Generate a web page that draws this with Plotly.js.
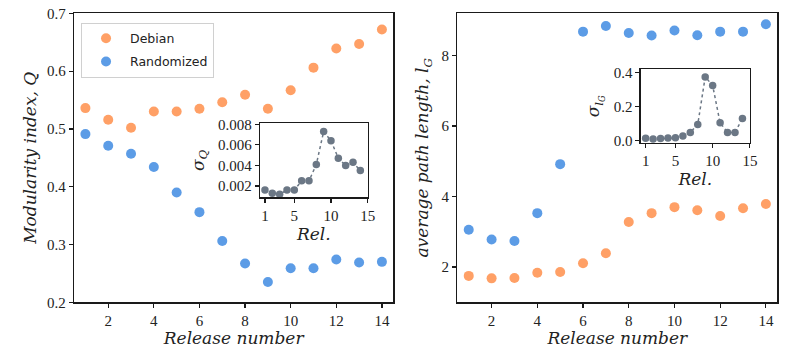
<!DOCTYPE html>
<html>
<head>
<meta charset="utf-8">
<script src="https://cdn.plot.ly/plotly-3.0.1.min.js"></script>
<style>html,body{margin:0;padding:0;background:#fff;}#chart{width:789px;height:357px;}</style>
</head>
<body>
<div id="chart"></div>
<script>
const releases = [1,2,3,4,5,6,7,8,9,10,11,12,13,14];
const modularityDebian = [0.536,0.516,0.502,0.530,0.530,0.535,0.546,0.559,0.535,0.567,0.606,0.639,0.647,0.672];
const modularityRandom = [0.491,0.471,0.457,0.434,0.390,0.356,0.306,0.267,0.235,0.259,0.259,0.274,0.269,0.270];
const sigmaQ = [0.0016,0.0013,0.0012,0.0016,0.0016,0.0025,0.0025,0.0041,0.0073,0.0064,0.0047,0.0040,0.0043,0.0035];
const pathDebian = [1.75,1.68,1.69,1.84,1.86,2.11,2.39,3.28,3.53,3.70,3.61,3.45,3.67,3.79];
const pathRandom = [3.06,2.78,2.74,3.53,4.92,8.68,8.84,8.64,8.57,8.71,8.58,8.68,8.68,8.89];
const sigmaL = [0.013,0.010,0.012,0.015,0.016,0.027,0.048,0.095,0.375,0.325,0.105,0.048,0.048,0.130];

const mainTicks = [2,4,6,8,10,12,14];
const insetTicks = [1,5,10,15];

const ORANGE = '#FFA066', BLUE = '#5C9CE6', GRAY = '#6B7785';
const SERIF = '"Liberation Serif", serif';
const TSERIF = '"DejaVu Serif", serif';
const SANS = '"DejaVu Sans", sans-serif';

const traces = [
  {x: releases, y: modularityDebian, xaxis:'x', yaxis:'y', mode:'markers', name:'Debian', legendgroup:'a',
   marker:{color:ORANGE, size:10}},
  {x: releases, y: modularityRandom, xaxis:'x', yaxis:'y', mode:'markers', name:'Randomized', legendgroup:'b',
   marker:{color:BLUE, size:10}},
  {x: releases, y: sigmaQ, xaxis:'x3', yaxis:'y3', mode:'lines+markers', showlegend:false,
   line:{color:GRAY, dash:'dot', width:1.5}, marker:{color:GRAY, size:7.5}},
  {x: releases, y: pathDebian, xaxis:'x2', yaxis:'y2', mode:'markers', showlegend:false,
   marker:{color:ORANGE, size:10}},
  {x: releases, y: pathRandom, xaxis:'x2', yaxis:'y2', mode:'markers', showlegend:false,
   marker:{color:BLUE, size:10}},
  {x: releases, y: sigmaL, xaxis:'x4', yaxis:'y4', mode:'lines+markers', showlegend:false,
   line:{color:GRAY, dash:'dot', width:1.5}, marker:{color:GRAY, size:7.5}}
];

function ax(extra){
  return Object.assign({
    showline:true, mirror:true, linecolor:'#1a1a1a', linewidth:1.2,
    ticks:'outside', ticklen:4, tickwidth:1.2, tickcolor:'#1a1a1a',
    showgrid:false, zeroline:false,
    tickfont:{family:SERIF, size:15, color:'#222'}
  }, extra);
}
const titleFont = {family:TSERIF, size:17, color:'#222'};

const layout = {
  width:789, height:357,
  margin:{l:0,r:0,t:0,b:0},
  paper_bgcolor:'#fff', plot_bgcolor:'#fff',
  font:{family:SERIF},
  showlegend:true,
  legend:{x:0.1027, y:0.9364, xanchor:'left', yanchor:'top', bgcolor:'#fff',
    bordercolor:'#d0d0d0', borderwidth:1, font:{family:SANS, size:12.5, color:'#222'},
    traceorder:'grouped', tracegroupgap:4, itemwidth:38},
  xaxis: ax({domain:[0.0938,0.4985], range:[0.5,14.5], tickvals:mainTicks, anchor:'y',
    title:{text:'<i>Release number</i>', font:titleFont, standoff:4}}),
  yaxis: ax({domain:[0.1532,0.9627], range:[0.2,0.7], dtick:0.1, tick0:0.2, tickformat:'.1f', anchor:'x',
    title:{text:'<i>Modularity index, Q</i>', font:titleFont, standoff:6}}),
  xaxis2: ax({domain:[0.5796,0.9852], range:[0.5,14.5], tickvals:mainTicks, anchor:'y2',
    title:{text:'<i>Release number</i>', font:titleFont, standoff:4}}),
  yaxis2: ax({domain:[0.1532,0.9627], range:[1.0,9.2], tickvals:[2,4,6,8], anchor:'x2',
    title:{text:'<i>average path length, l</i><sub><i>G</i></sub>', font:titleFont, standoff:8}}),
  xaxis3: ax({domain:[0.3295,0.4660], range:[0.32,15.0], tickvals:insetTicks, anchor:'y3',
    title:{text:'<i>Rel.</i>', font:titleFont, standoff:4}}),
  yaxis3: ax({domain:[0.4473,0.6546], range:[0.0009,0.0081], tickvals:[0.002,0.004,0.006,0.008], tickformat:'.3f', anchor:'x3',
    title:{text:'<i>σ</i><sub><i>Q</i></sub>', font:titleFont, standoff:9}}),
  xaxis4: ax({domain:[0.8120,0.9506], range:[0.33,15.02], tickvals:insetTicks, anchor:'y4',
    title:{text:'<i>Rel.</i>', font:titleFont, standoff:4}}),
  yaxis4: ax({domain:[0.5986,0.8059], range:[-0.016,0.42], tickvals:[0,0.2,0.4], tickformat:'.1f', anchor:'x4',
    title:{text:'<i>σ</i><sub><i>l</i></sub><sub><i><sub>G</sub></i></sub>', font:titleFont, standoff:9}})
};

Plotly.newPlot('chart', traces, layout, {staticPlot:true, displayModeBar:false});
</script>
</body>
</html>
